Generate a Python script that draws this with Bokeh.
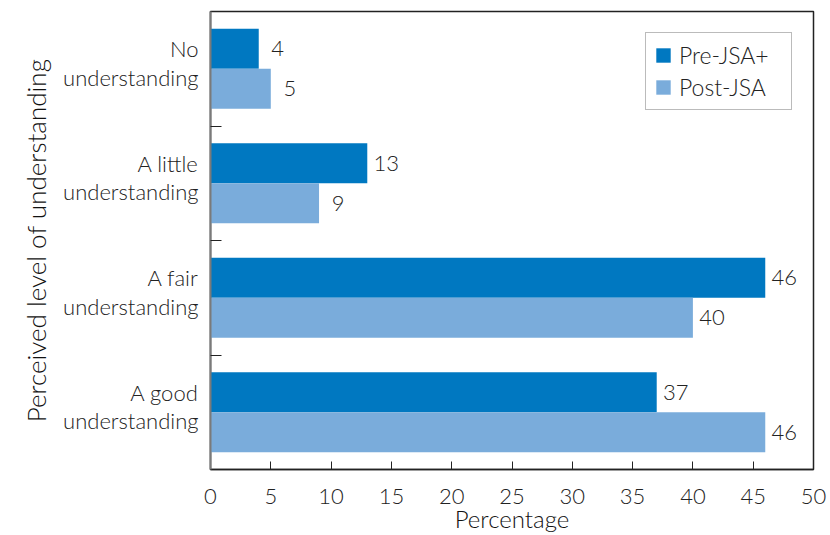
from bokeh.plotting import figure
from bokeh.models import ColumnDataSource, Range1d, FixedTicker, Legend, LegendItem
from bokeh.embed import file_html
from bokeh.resources import INLINE
from bokeh.core.properties import value

categories = ["No\nunderstanding", "A little\nunderstanding", "A fair\nunderstanding", "A good\nunderstanding"]
pre_jsa = [4, 13, 46, 37]
post_jsa = [5, 9, 40, 46]
x_ticks = [0, 5, 10, 15, 20, 25, 30, 35, 40, 45, 50]

PRE_COLOR = "#0078c1"
POST_COLOR = "#7aacdb"
FONT = "Lato Light"
TXT = "#222222"
FS = "22px"

n = len(categories)
centers = [i + 0.5 for i in range(n)]
bar_h = 0.35
label_lift = 0.05  # category labels sit a little above the group centre

src_pre = ColumnDataSource(dict(y=[c - bar_h / 2 for c in centers], v=pre_jsa,
                                lab=[str(v) for v in pre_jsa]))
src_post = ColumnDataSource(dict(y=[c + bar_h / 2 for c in centers], v=post_jsa,
                                 lab=[str(v) for v in post_jsa]))

p = figure(width=830, height=535, output_backend="svg", toolbar_location=None,
           title=None, x_range=Range1d(0, 50), y_range=Range1d(n, 0))
p.min_border_left = 210
p.min_border_right = 17
p.min_border_top = 11
p.min_border_bottom = 65
p.background_fill_color = "white"
p.border_fill_color = "white"
p.outline_line_color = "#222222"
p.outline_line_width = 1.5
p.xgrid.visible = False
p.ygrid.visible = False

r_pre = p.hbar(y="y", left=0, right="v", height=bar_h, source=src_pre,
               fill_color=PRE_COLOR, line_color=None)
r_post = p.hbar(y="y", left=0, right="v", height=bar_h, source=src_post,
                fill_color=POST_COLOR, line_color=None)

for s in (src_pre, src_post):
    p.text(x="v", y="y", text="lab", source=s, x_offset=19, text_baseline="middle",
           text_align="center", text_font=value(FONT), text_font_size=FS, text_color=TXT)

# x axis
xa = p.xaxis[0]
xa.ticker = FixedTicker(ticks=x_ticks)
xa.axis_label = "Percentage"
xa.axis_label_text_font = FONT
xa.axis_label_text_font_size = "24px"
xa.axis_label_text_font_style = "normal"
xa.axis_label_text_color = "#111111"
xa.axis_label_text_line_height = 1.0
xa.axis_label_standoff = -3
xa.major_label_text_font = FONT
xa.major_label_text_font_size = FS
xa.major_label_text_color = TXT
xa.major_label_text_line_height = 1.0
xa.major_label_standoff = 19
xa.major_tick_in = 8
xa.major_tick_out = 0
xa.major_tick_line_color = "#222222"
xa.minor_tick_line_color = None
xa.axis_line_color = "#222222"
xa.axis_line_width = 1.5

# y axis
ya = p.yaxis[0]
label_pos = [c - label_lift for c in centers]
ya.ticker = FixedTicker(ticks=label_pos, minor_ticks=[1, 2, 3])
ya.major_label_overrides = {c: lab for c, lab in zip(label_pos, categories)}
ya.major_tick_line_color = None
ya.minor_tick_in = 11
ya.minor_tick_out = 0
ya.minor_tick_line_color = "#222222"
ya.axis_line_color = "#7a7a7a"
ya.axis_line_width = 2
ya.major_label_text_font = FONT
ya.major_label_text_font_size = FS
ya.major_label_text_color = TXT
ya.major_label_text_line_height = 1.05
ya.major_label_standoff = 6
ya.axis_label = "Perceived level of understanding"
ya.axis_label_text_font = FONT
ya.axis_label_text_font_size = "26px"
ya.axis_label_text_font_style = "normal"
ya.axis_label_text_color = "#111111"
ya.axis_label_standoff = 8

legend = Legend(items=[LegendItem(label="Pre-JSA+", renderers=[r_pre]),
                       LegendItem(label="Post-JSA", renderers=[r_post])],
                location="top_right")
legend.margin = 21
legend.padding = 8
legend.spacing = 4
legend.glyph_width = 18
legend.glyph_height = 18
legend.label_standoff = 7
legend.label_width = 104
legend.label_text_font = FONT
legend.label_text_font_size = "23px"
legend.label_text_line_height = 1.0
legend.label_text_color = TXT
legend.border_line_color = "#777777"
legend.border_line_width = 1.5
legend.background_fill_alpha = 1
p.add_layout(legend)

open("out.html", "w").write(file_html(p, INLINE))
